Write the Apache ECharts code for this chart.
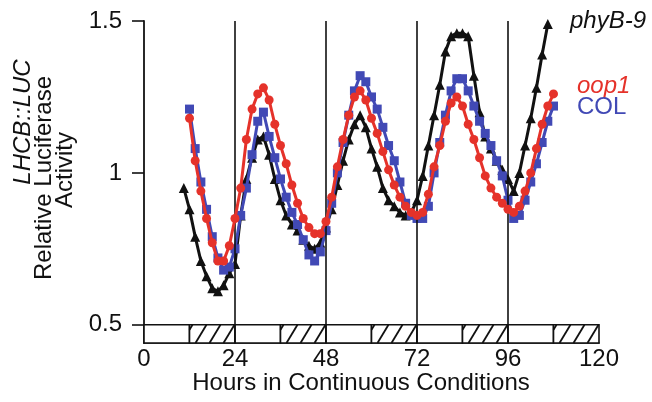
<!DOCTYPE html>
<html>
<head>
<meta charset="utf-8">
<script src="https://cdn.jsdelivr.net/npm/echarts@6/dist/echarts.min.js"></script>
<style>
  html, body { margin: 0; padding: 0; background: #fff; }
  #chart { width: 652px; height: 402px; }
</style>
</head>
<body>
<div id="chart"></div>
<script>
// hours in continuous conditions (x of every sample)
var hours = [10.5, 12, 13.5, 15, 16.5, 18, 19.5, 21, 22.5, 24, 25.5, 27, 28.5, 30, 31.5, 33,
  34.5, 36, 37.5, 39, 40.5, 42, 43.5, 45, 46.5, 48, 49.5, 51, 52.5, 54, 55.5, 57,
  58.5, 60, 61.5, 63, 64.5, 66, 67.5, 69, 70.5, 72, 73.5, 75, 76.5, 78, 79.5, 81,
  82.5, 84, 85.5, 87, 88.5, 90, 91.5, 93, 94.5, 96, 97.5, 99, 100.5, 102, 103.5, 105,
  106.5, 108];

var phyB9 = [0.95, 0.88, 0.79, 0.71, 0.66, 0.62, 0.61, 0.63, 0.67, 0.70, 0.86, 0.98, 1.05, 1.11, 1.12, 1.06,
  0.98, 0.91, 0.86, 0.83, 0.81, 0.78, 0.76, 0.75, 0.77, 0.82, 0.88, 0.96, 1.04, 1.11, 1.16, 1.19,
  1.15, 1.08, 1.02, 0.95, 0.91, 0.89, 0.87, 0.86, 0.87, 0.91, 0.99, 1.09, 1.19, 1.29, 1.40, 1.45,
  1.46, 1.46, 1.45, 1.32, 1.20, 1.12, 1.08, 1.04, 1.01, 0.98, 0.94, 1.00, 1.09, 1.18, 1.28, 1.39,
  1.49, null];

var oop1 = [null, 1.18, 1.04, 0.94, 0.85, 0.77, 0.71, 0.71, 0.76, 0.85, 0.95, 1.11, 1.21, 1.26, 1.28, 1.24,
  1.16, 1.09, 1.03, 0.96, 0.90, 0.85, 0.82, 0.80, 0.80, 0.84, 0.92, 1.02, 1.11, 1.19, 1.25, 1.27,
  1.24, 1.18, 1.13, 1.07, 1.01, 0.96, 0.92, 0.89, 0.87, 0.86, 0.87, 0.93, 1.02, 1.09, 1.17, 1.23,
  1.25, 1.22, 1.16, 1.11, 1.05, 0.99, 0.95, 0.92, 0.90, 0.88, 0.87, 0.89, 0.94, 1.00, 1.08, 1.16,
  1.22, 1.26];

var col = [null, 1.21, 1.08, 0.97, 0.88, 0.79, 0.72, 0.68, 0.69, 0.75, 0.86, 0.95, 1.06, 1.17, 1.20, 1.12,
  1.05, 0.98, 0.92, 0.87, 0.83, 0.78, 0.73, 0.71, 0.74, 0.81, 0.90, 1.00, 1.10, 1.19, 1.27, 1.32,
  1.30, 1.25, 1.21, 1.15, 1.09, 1.04, 0.97, 0.90, 0.86, 0.85, 0.85, 0.89, 1.00, 1.10, 1.19, 1.27,
  1.31, 1.31, 1.27, 1.22, 1.17, 1.13, 1.09, 1.04, 0.99, 0.91, 0.85, 0.86, 0.91, 0.97, 1.03, 1.10,
  1.17, 1.22];

// light / dark bar under the plot (subjective day = open, subjective night = hatched)
var barStart = [0, 12, 24, 36, 48, 60, 72, 84, 96, 108];
var barEnd = [12, 24, 36, 48, 60, 72, 84, 96, 108, 120];
var barHatched = [0, 1, 0, 1, 0, 1, 0, 1, 0, 1];

var dayLines = [24, 48, 72, 96];
var yTicks = [0.5, 1, 1.5];

var yMin = 0.44, yBarTop = 0.5;
var FONT = '"Liberation Sans", Arial, Helvetica, sans-serif';
var RED = '#e5322a', BLUE = '#4149b5', BLACK = '#111';

function pairs(vals) {
  var out = [];
  for (var i = 0; i < hours.length; i++) out.push([hours[i], vals[i]]);
  return out;
}

var barData = [];
for (var i = 0; i < barStart.length; i++) barData.push([barStart[i], barEnd[i], barHatched[i]]);

function renderBar(params, api) {
  var tl = api.coord([api.value(0), yBarTop]);
  var br = api.coord([api.value(1), yMin]);
  var x0 = tl[0], y0 = tl[1], x1 = br[0], y1 = br[1];
  var h = y1 - y0;
  var kids = [{
    type: 'rect',
    shape: { x: x0, y: y0, width: x1 - x0, height: h },
    style: { fill: '#fff', stroke: BLACK, lineWidth: 1.6 }
  }];
  if (api.value(2)) {
    var run = 11, step = 14;
    for (var a = x0 - run + 3; a < x1; a += step) {
      // line from (a, bottom) to (a + run, top), clipped to [x0, x1]
      var t0 = Math.max(0, (x0 - a) / run);
      var t1 = Math.min(1, (x1 - a) / run);
      if (t1 <= t0) continue;
      kids.push({
        type: 'line',
        shape: { x1: a + run * t0, y1: y1 - h * t0, x2: a + run * t1, y2: y1 - h * t1 },
        style: { stroke: BLACK, lineWidth: 1.8 }
      });
    }
  }
  return { type: 'group', children: kids };
}

var chart = echarts.init(document.getElementById('chart'));

var option = {
  backgroundColor: '#fff',
  animation: false,
  grid: { left: 144, right: 53, top: 21, bottom: 59 },
  xAxis: {
    type: 'value',
    min: 0,
    max: 120,
    interval: 24,
    axisLine: { lineStyle: { color: BLACK, width: 1.6 } },
    axisTick: { show: false },
    splitLine: { show: false },
    axisLabel: { color: BLACK, fontSize: 24, fontFamily: FONT, margin: 4 }
  },
  yAxis: {
    type: 'value',
    min: yMin,
    max: 1.5,
    axisLine: { show: true, lineStyle: { color: BLACK, width: 1.8 } },
    axisTick: { show: true, inside: false, length: 12, customValues: yTicks, lineStyle: { color: BLACK, width: 1.6 } },
    splitLine: { show: false },
    axisLabel: { color: BLACK, fontSize: 24, fontFamily: FONT, margin: 22, customValues: yTicks }
  },
  graphic: [
    { type: 'text', x: 361, y: 383, style: { text: 'Hours in Continuous Conditions', fill: BLACK, font: '24px ' + FONT, align: 'center', verticalAlign: 'middle' } },
    { type: 'text', x: 23, y: 122, rotation: Math.PI / 2, style: { text: 'LHCB::LUC', fill: BLACK, font: 'italic 24px ' + FONT, align: 'center', verticalAlign: 'middle' } },
    { type: 'text', x: 44, y: 178, rotation: Math.PI / 2, style: { text: 'Relative Luciferase', fill: BLACK, font: '24px ' + FONT, align: 'center', verticalAlign: 'middle' } },
    { type: 'text', x: 65, y: 170, rotation: Math.PI / 2, style: { text: 'Activity', fill: BLACK, font: '24px ' + FONT, align: 'center', verticalAlign: 'middle' } },
    { type: 'text', x: 570, y: 21, style: { text: 'phyB-9', fill: BLACK, font: 'italic 24px ' + FONT, verticalAlign: 'middle' } },
    { type: 'text', x: 577, y: 86, style: { text: 'oop1', fill: RED, font: 'italic 24px ' + FONT, verticalAlign: 'middle' } },
    { type: 'text', x: 577, y: 107, style: { text: 'COL', fill: BLUE, font: '24px ' + FONT, verticalAlign: 'middle' } }
  ],
  series: [
    {
      type: 'custom',
      renderItem: renderBar,
      data: barData,
      silent: true,
      z: 1,
      markLine: {
        silent: true,
        symbol: 'none',
        label: { show: false },
        lineStyle: { color: BLACK, width: 1.6, type: 'solid' },
        data: dayLines.map(function (d) { return { xAxis: d }; })
      }
    },
    {
      name: 'phyB-9',
      type: 'line',
      data: pairs(phyB9),
      clip: false,
      symbol: 'triangle',
      symbolSize: 10,
      lineStyle: { color: BLACK, width: 3 },
      itemStyle: { color: BLACK },
      z: 3
    },
    {
      name: 'COL',
      type: 'line',
      data: pairs(col),
      clip: false,
      symbol: 'rect',
      symbolSize: 9,
      lineStyle: { color: BLUE, width: 3 },
      itemStyle: { color: BLUE },
      z: 4
    },
    {
      name: 'oop1',
      type: 'line',
      data: pairs(oop1),
      clip: false,
      symbol: 'circle',
      symbolSize: 9,
      lineStyle: { color: RED, width: 3 },
      itemStyle: { color: RED },
      z: 5
    }
  ]
};

chart.setOption(option);
</script>
</body>
</html>
